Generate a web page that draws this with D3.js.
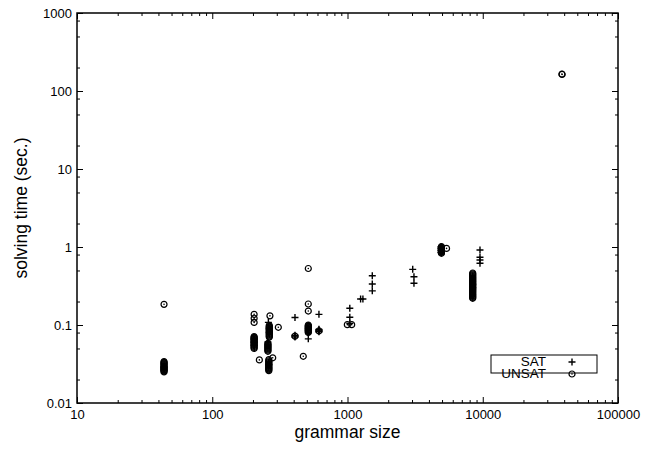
<!DOCTYPE html>
<html>
<head>
<meta charset="utf-8">
<script src="https://cdn.jsdelivr.net/npm/d3@7"></script>
<style>
  body { margin: 0; background: #fff; }
  text { font-family: "Liberation Sans", Arial, sans-serif; fill: #000; }
</style>
</head>
<body>
<div id="chart"></div>
<script>
// grammar size -> solving time (sec.)
var satPoints = [
  [44, 0.029], [44, 0.028], [44, 0.027], [44, 0.026],
  [204, 0.066], [204, 0.060], [204, 0.055],
  [260, 0.108], [264, 0.090], [264, 0.080],
  [258, 0.0605], [262, 0.031],
  [409, 0.125], [409, 0.074], [409, 0.072], [409, 0.070],
  [513, 0.090], [513, 0.085], [513, 0.0664],
  [615, 0.137], [615, 0.088], [615, 0.086], [615, 0.084], [615, 0.082],
  [1040, 0.105], [1040, 0.1255], [1040, 0.164],
  [1250, 0.215], [1300, 0.215],
  [1525, 0.428], [1525, 0.335], [1525, 0.274],
  [3035, 0.517], [3100, 0.416], [3100, 0.343],
  [4900, 1.0], [4900, 0.95], [4900, 0.90], [4900, 0.85],
  [9540, 0.916], [9540, 0.738], [9540, 0.68], [9540, 0.62],
  [8430, 0.33], [8430, 0.30]
];

var unsatPoints = [
  [44, 0.184],
  [44, 0.0250], [44, 0.0257], [44, 0.0264], [44, 0.0271], [44, 0.0278], [44, 0.0285],
  [44, 0.0292], [44, 0.0300], [44, 0.0308], [44, 0.0316], [44, 0.0324], [44, 0.0332], [44, 0.0340],
  [204, 0.137], [204, 0.122], [204, 0.108],
  [204, 0.050], [204, 0.0515], [204, 0.053], [204, 0.0545], [204, 0.056], [204, 0.0575],
  [204, 0.059], [204, 0.0605], [204, 0.062], [204, 0.0635], [204, 0.065], [204, 0.0665],
  [204, 0.068], [204, 0.0695], [204, 0.071],
  [223, 0.0357], [267, 0.131],
  [264, 0.070], [264, 0.072], [264, 0.074], [264, 0.076], [264, 0.078], [264, 0.080],
  [264, 0.082], [264, 0.084], [264, 0.086], [264, 0.088], [264, 0.090], [264, 0.092],
  [264, 0.094], [264, 0.096], [264, 0.099],
  [308, 0.0935],
  [258, 0.046], [258, 0.0475], [258, 0.049], [258, 0.0505], [258, 0.052], [258, 0.0535],
  [258, 0.055], [258, 0.0565], [258, 0.058],
  [280, 0.038],
  [262, 0.026], [262, 0.0267], [262, 0.0274], [262, 0.0281], [262, 0.0288], [262, 0.0296],
  [262, 0.0304], [262, 0.0312], [262, 0.032], [262, 0.0329], [262, 0.0338], [262, 0.0348], [262, 0.036],
  [409, 0.072], [471, 0.0397],
  [513, 0.53], [513, 0.186], [513, 0.151],
  [513, 0.080], [513, 0.082], [513, 0.084], [513, 0.086], [513, 0.088], [513, 0.090],
  [513, 0.092], [513, 0.094], [513, 0.096], [513, 0.098], [513, 0.100],
  [615, 0.084],
  [997, 0.101], [1074, 0.101],
  [4950, 0.83], [4950, 0.85], [4950, 0.87], [4950, 0.89], [4950, 0.91], [4950, 0.93],
  [4950, 0.95], [4950, 0.97], [4950, 0.99], [4950, 1.01],
  [5400, 0.96],
  [8430, 0.22], [8430, 0.226], [8430, 0.232], [8430, 0.238], [8430, 0.244], [8430, 0.25],
  [8430, 0.257], [8430, 0.264], [8430, 0.271], [8430, 0.278], [8430, 0.285], [8430, 0.292],
  [8430, 0.30], [8430, 0.308], [8430, 0.316], [8430, 0.324], [8430, 0.332], [8430, 0.34],
  [8430, 0.349], [8430, 0.358], [8430, 0.367], [8430, 0.376], [8430, 0.386], [8430, 0.396],
  [8430, 0.406], [8430, 0.417], [8430, 0.428], [8430, 0.44], [8430, 0.452], [8430, 0.464],
  [38500, 165], [38600, 163]
];

var xMajor = [10, 100, 1000, 10000, 100000];
var yMajor = [0.01, 0.1, 1, 10, 100, 1000];
var xLabels = ["10", "100", "1000", "10000", "100000"];
var yLabels = ["0.01", "0.1", "1", "10", "100", "1000"];
var xMinorSteps = [2, 3, 4, 5, 6, 7, 8, 9];
var yMinorSteps = [2, 5, 8];

var width = 652, height = 450;
var pLeft = 77, pRight = 618, pTop = 13, pBottom = 403;

var x = d3.scaleLog().domain([10, 100000]).range([pLeft, pRight]);
var y = d3.scaleLog().domain([0.01, 1000]).range([pBottom, pTop]);

var xMinor = [];
xMajor.slice(0, -1).forEach(function (d) {
  xMinorSteps.forEach(function (s) { xMinor.push(d * s); });
});
var yMinor = [];
yMajor.slice(0, -1).forEach(function (d) {
  yMinorSteps.forEach(function (s) { yMinor.push(d * s); });
});

var svg = d3.select("#chart").append("svg")
  .attr("width", width)
  .attr("height", height);

function tickAxis(g, axis) {
  g.call(axis);
  g.select(".domain").remove();
  g.selectAll(".tick line").attr("stroke", "#000").attr("stroke-width", 1);
  g.selectAll(".tick text")
    .style("font-family", "'Liberation Sans', Arial, sans-serif")
    .style("font-size", "13px")
    .attr("fill", "#000");
}

// bottom axis with labels
svg.append("g").attr("transform", "translate(0," + pBottom + ")")
  .call(tickAxis, d3.axisBottom(x).tickValues(xMajor)
    .tickSizeInner(-6).tickSizeOuter(0).tickPadding(7)
    .tickFormat(function (d, i) { return xLabels[i]; }));
svg.append("g").attr("transform", "translate(0," + pBottom + ")")
  .call(tickAxis, d3.axisBottom(x).tickValues(xMinor)
    .tickSizeInner(-3).tickSizeOuter(0).tickFormat(""));
// top
svg.append("g").attr("transform", "translate(0," + pTop + ")")
  .call(tickAxis, d3.axisTop(x).tickValues(xMajor)
    .tickSizeInner(-6).tickSizeOuter(0).tickFormat(""));
svg.append("g").attr("transform", "translate(0," + pTop + ")")
  .call(tickAxis, d3.axisTop(x).tickValues(xMinor)
    .tickSizeInner(-3).tickSizeOuter(0).tickFormat(""));
// left with labels
svg.append("g").attr("transform", "translate(" + pLeft + ",0)")
  .call(tickAxis, d3.axisLeft(y).tickValues(yMajor)
    .tickSizeInner(-6).tickSizeOuter(0).tickPadding(5)
    .tickFormat(function (d, i) { return yLabels[i]; }));
svg.append("g").attr("transform", "translate(" + pLeft + ",0)")
  .call(tickAxis, d3.axisLeft(y).tickValues(yMinor)
    .tickSizeInner(-3).tickSizeOuter(0).tickFormat(""));
// right
svg.append("g").attr("transform", "translate(" + pRight + ",0)")
  .call(tickAxis, d3.axisRight(y).tickValues(yMajor)
    .tickSizeInner(-6).tickSizeOuter(0).tickFormat(""));
svg.append("g").attr("transform", "translate(" + pRight + ",0)")
  .call(tickAxis, d3.axisRight(y).tickValues(yMinor)
    .tickSizeInner(-3).tickSizeOuter(0).tickFormat(""));

// frame
svg.append("rect")
  .attr("x", pLeft).attr("y", pTop)
  .attr("width", pRight - pLeft).attr("height", pBottom - pTop)
  .attr("fill", "none").attr("stroke", "#000").attr("stroke-width", 1.5);

// axis titles
svg.append("text")
  .attr("x", (pLeft + pRight) / 2).attr("y", 438)
  .attr("text-anchor", "middle")
  .style("font-size", "17.5px")
  .text("grammar size");
svg.append("text")
  .attr("transform", "translate(27," + ((pTop + pBottom) / 2) + ") rotate(-90)")
  .attr("text-anchor", "middle")
  .style("font-size", "17.5px")
  .text("solving time (sec.)");

var plusPath = "M-3.5,0H3.5M0,-3.5V3.5";

function drawPlus(sel) {
  sel.append("path").attr("d", plusPath)
    .attr("stroke", "#000").attr("stroke-width", 1.4).attr("fill", "none");
}
function drawCircle(sel) {
  sel.append("circle").attr("r", 3)
    .attr("fill", "none").attr("stroke", "#000").attr("stroke-width", 1.2);
  sel.append("circle").attr("r", 0.8).attr("fill", "#000");
}

var plot = svg.append("g");

plot.selectAll("g.sat").data(satPoints).enter().append("g")
  .attr("class", "sat")
  .attr("transform", function (d) { return "translate(" + x(d[0]) + "," + y(d[1]) + ")"; })
  .call(drawPlus);

plot.selectAll("g.unsat").data(unsatPoints).enter().append("g")
  .attr("class", "unsat")
  .attr("transform", function (d) { return "translate(" + x(d[0]) + "," + y(d[1]) + ")"; })
  .call(drawCircle);

// legend
var legend = svg.append("g");
legend.append("rect")
  .attr("x", 491).attr("y", 355).attr("width", 106).attr("height", 18)
  .attr("fill", "#fff").attr("stroke", "#000").attr("stroke-width", 1);
legend.append("text").attr("x", 546).attr("y", 366)
  .attr("text-anchor", "end").style("font-size", "13.5px").text("SAT");
legend.append("text").attr("x", 546).attr("y", 378)
  .attr("text-anchor", "end").style("font-size", "13.5px").text("UNSAT");
legend.append("g").attr("transform", "translate(572,362)").call(drawPlus);
legend.append("g").attr("transform", "translate(572,374)").call(drawCircle);
</script>
</body>
</html>
